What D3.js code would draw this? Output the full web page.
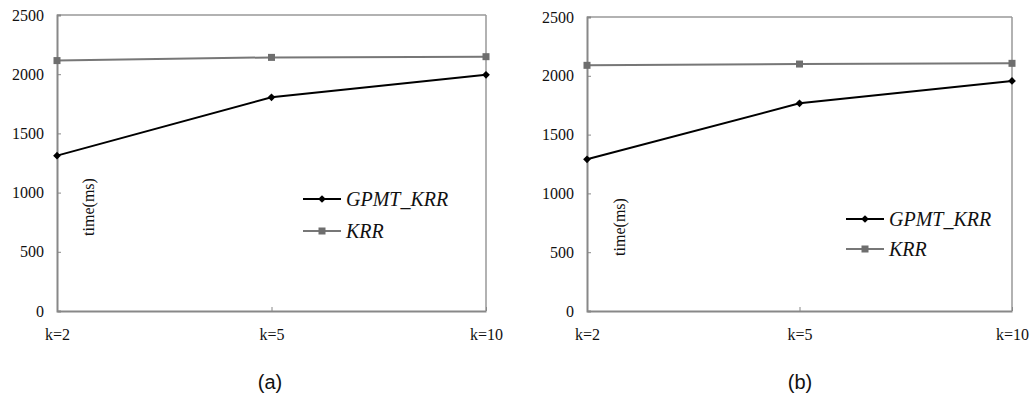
<!DOCTYPE html>
<html>
<head>
  <meta charset="utf-8" />
  <title>GPMT_KRR vs KRR time</title>
  <script src="https://d3js.org/d3.v7.min.js"></script>
  <style>
    body { margin: 0; background: #fff; }
  </style>
</head>
<body>
  <svg id="chart" width="1030" height="394"></svg>
  <script>
    // categories and tick labels
    var categories = ["k=2", "k=5", "k=10"];
    var yTicks = [0, 500, 1000, 1500, 2000, 2500];
    var seriesNames = ["GPMT_KRR", "KRR"];

    // panel (a)
    var gpmtA = [1312, 1805, 1995];
    var krrA = [2115, 2142, 2148];
    // panel (b)
    var gpmtB = [1290, 1766, 1956];
    var krrB = [2089, 2100, 2106];

    var SERIF = "'Liberation Serif', 'Times New Roman', Times, serif";
    var SANS = "'Liberation Sans', Arial, Helvetica, sans-serif";

    var svg = d3.select("#chart");

    // diamond = square turned 45 degrees
    var diamond = d3.symbol().type(d3.symbolSquare).size(30);

    function drawPanel(opt) {
      var g = svg.append("g");

      var x = d3.scalePoint().domain(categories).range([opt.left, opt.right]);
      var y = d3.scaleLinear().domain([0, 2500]).range([opt.bottom, opt.top]);

      // frame top and right
      g.append("line")
        .attr("x1", opt.left).attr("x2", opt.right)
        .attr("y1", opt.top).attr("y2", opt.top)
        .attr("stroke", "#999").attr("stroke-width", 1.5);
      g.append("line")
        .attr("x1", opt.right).attr("x2", opt.right)
        .attr("y1", opt.top).attr("y2", opt.bottom)
        .attr("stroke", "#999").attr("stroke-width", 1.5);

      // y axis
      var yAxis = d3.axisLeft(y).tickValues(yTicks).tickFormat(d3.format("d"))
        .tickSize(-4).tickPadding(13);
      var ya = g.append("g")
        .attr("transform", "translate(" + opt.left + ",0)")
        .call(yAxis);
      ya.select(".domain").attr("stroke", "#888").attr("stroke-width", 2);
      ya.selectAll(".tick line").attr("stroke", "#888");
      ya.selectAll("text")
        .style("font-family", SERIF).style("font-size", "16px").attr("fill", "#111");

      // x axis
      var xAxis = d3.axisBottom(x).tickSize(-4).tickPadding(18).tickSizeOuter(0);
      var xa = g.append("g")
        .attr("transform", "translate(0," + opt.bottom + ")")
        .call(xAxis);
      xa.select(".domain").attr("stroke", "#888").attr("stroke-width", 2);
      xa.selectAll(".tick line").attr("stroke", "#888");
      xa.selectAll("text")
        .style("font-family", SERIF).style("font-size", "16px").attr("fill", "#111");

      // y label
      g.append("text")
        .attr("transform", "translate(" + opt.labelX + "," + opt.labelY + ") rotate(-90)")
        .attr("text-anchor", "middle")
        .attr("dy", "0.35em")
        .style("font-family", SERIF).style("font-size", "16px")
        .attr("fill", "#111")
        .text("time(ms)");

      var line = d3.line()
        .x(function (d, i) { return x(categories[i]); })
        .y(function (d) { return y(d); });

      // KRR series
      g.append("path").datum(opt.krr)
        .attr("d", line).attr("fill", "none")
        .attr("stroke", "#777").attr("stroke-width", 2);
      g.selectAll(".sq").data(opt.krr).enter().append("rect")
        .attr("x", function (d, i) { return x(categories[i]) - 3.5; })
        .attr("y", function (d) { return y(d) - 3.5; })
        .attr("width", 7).attr("height", 7)
        .attr("fill", "#6e6e6e");

      // GPMT_KRR series
      g.append("path").datum(opt.gpmt)
        .attr("d", line).attr("fill", "none")
        .attr("stroke", "#000").attr("stroke-width", 2);
      g.selectAll(".dm").data(opt.gpmt).enter().append("path")
        .attr("d", diamond)
        .attr("transform", function (d, i) {
          return "translate(" + x(categories[i]) + "," + y(d) + ") rotate(45)";
        })
        .attr("fill", "#000");

      // legend
      var colors = ["#000", "#777"];
      seriesNames.forEach(function (name, i) {
        var ly = opt.legY + i * opt.legGap;
        g.append("line")
          .attr("x1", opt.legX).attr("x2", opt.legX + 38)
          .attr("y1", ly).attr("y2", ly)
          .attr("stroke", colors[i]).attr("stroke-width", 2);
        if (i === 0) {
          g.append("path")
            .attr("d", diamond)
            .attr("transform", "translate(" + (opt.legX + 19) + "," + ly + ") rotate(45)")
            .attr("fill", "#000");
        } else {
          g.append("rect")
            .attr("x", opt.legX + 19 - 3.5).attr("y", ly - 3.5)
            .attr("width", 7).attr("height", 7).attr("fill", "#6e6e6e");
        }
        g.append("text")
          .attr("x", opt.legX + 43).attr("y", ly)
          .attr("dy", "0.35em")
          .style("font-family", SERIF)
          .style("font-size", "20px").style("font-style", "italic")
          .attr("fill", "#111")
          .text(name);
      });

      // caption
      g.append("text")
        .attr("x", opt.capX).attr("y", 382)
        .attr("text-anchor", "middle").attr("dy", "0.35em")
        .style("font-family", SANS).style("font-size", "20px")
        .attr("fill", "#111")
        .text(opt.caption);
    }

    drawPanel({
      left: 57, right: 486, top: 15, bottom: 311,
      gpmt: gpmtA, krr: krrA,
      labelX: 88, labelY: 207,
      legX: 303, legY: 199, legGap: 32,
      capX: 270, caption: "(a)"
    });

    drawPanel({
      left: 587, right: 1012, top: 17, bottom: 311,
      gpmt: gpmtB, krr: krrB,
      labelX: 619, labelY: 227,
      legX: 846, legY: 219, legGap: 30,
      capX: 800, caption: "(b)"
    });
  </script>
</body>
</html>
